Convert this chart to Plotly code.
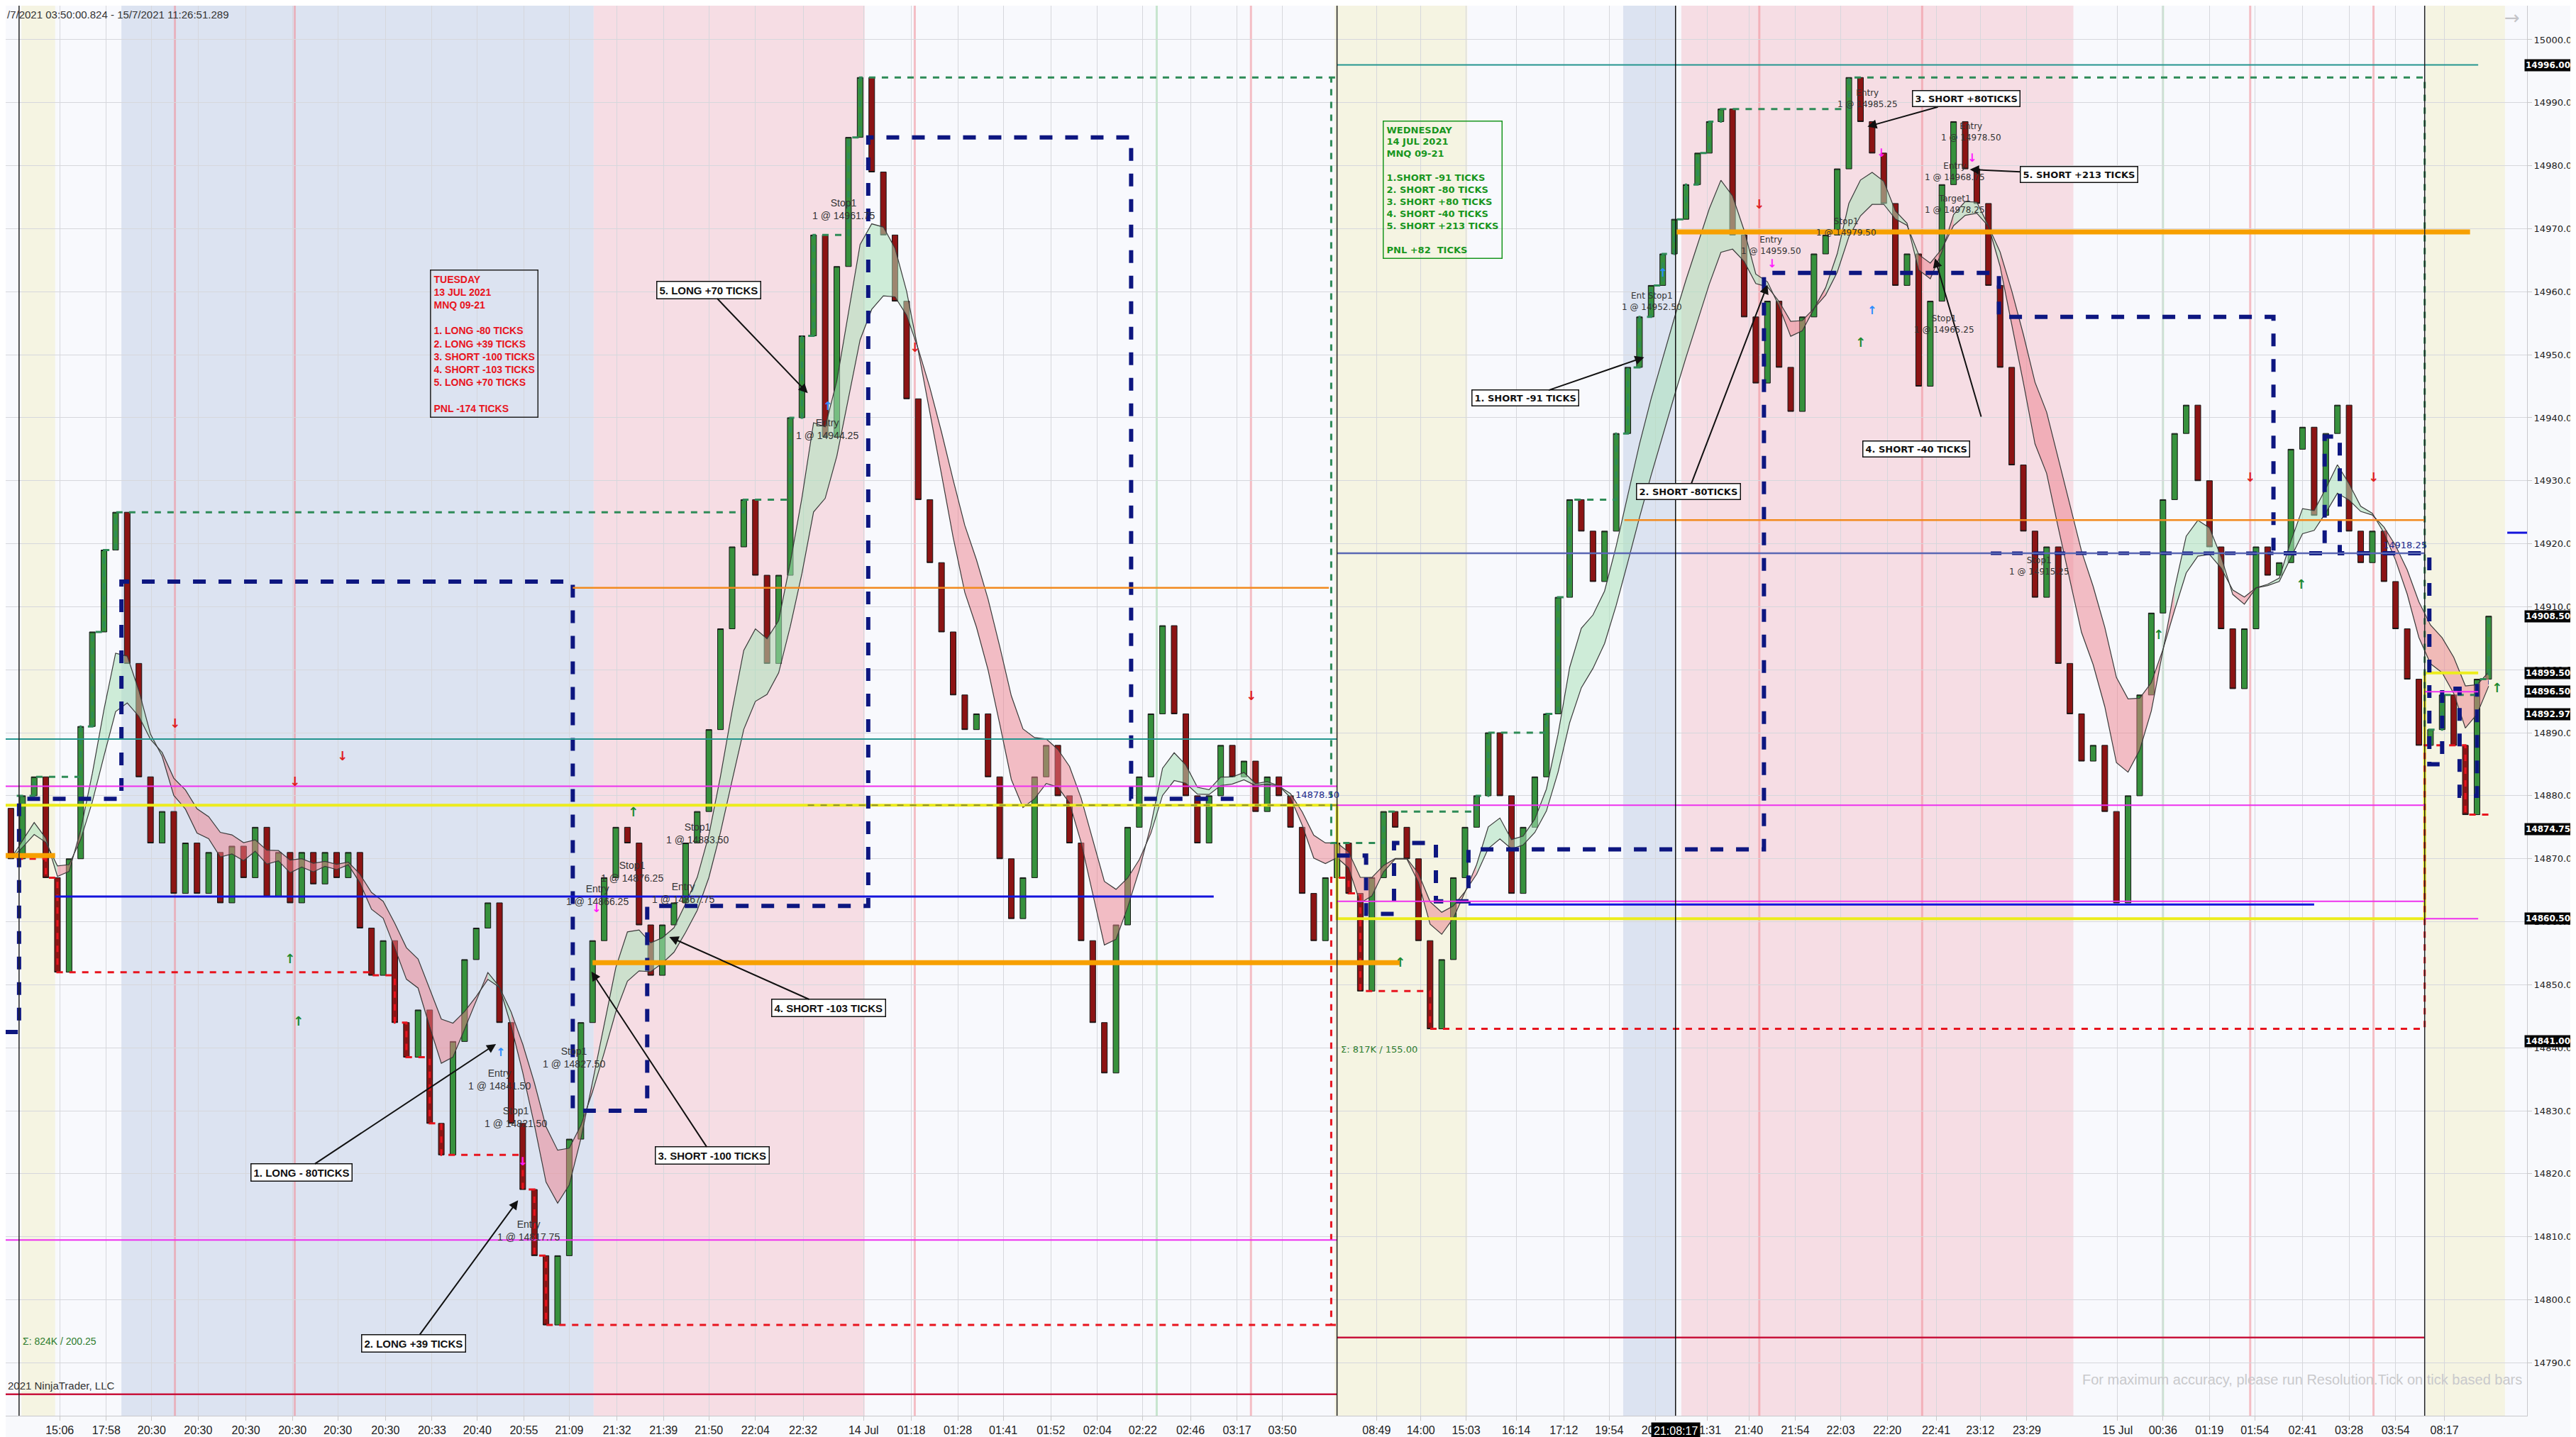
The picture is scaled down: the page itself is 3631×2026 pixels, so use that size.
import plotly.graph_objects as go

# bar closes (renko-like bars, open = previous close)
close = [
    14870, 14880, 14883, 14867, 14852, 14870, 14891, 14906, 14919, 14925,
    14901, 14883, 14872.5, 14877.5, 14864.5, 14872.5, 14864.5, 14871, 14863, 14872,
    14867, 14875, 14864, 14871, 14863, 14871, 14866, 14871, 14867, 14871,
    14859, 14851.5, 14857, 14844, 14838.5, 14846, 14828, 14823, 14841, 14854,
    14859, 14863, 14844, 14828, 14817.5, 14807, 14796, 14807, 14825.5, 14844,
    14857, 14867, 14875, 14872.5, 14859.5, 14851.5, 14859.5, 14863, 14872.5, 14877.5,
    14890.5, 14906.5, 14919.5, 14927, 14915, 14901, 14915, 14940, 14953, 14969,
    14937, 14964, 14984.5, 14994, 14979, 14969, 14958.5, 14943, 14927, 14917,
    14906, 14896, 14890.5, 14893, 14883, 14870, 14860.5, 14867, 14883, 14888,
    14880, 14872.5, 14857, 14844, 14836, 14859.5, 14875, 14883, 14893, 14907,
    14893, 14880, 14872.5, 14880, 14888, 14883, 14885.5, 14877.5, 14883, 14880,
    14875, 14864.5, 14857, 14867, 14872.5, 14864.5, 14849, 14867, 14877.5, 14875,
    14870, 14857, 14843, 14854, 14867, 14875, 14880, 14890, 14880, 14864.5,
    14875, 14883, 14893, 14911.5, 14927, 14922, 14914, 14922, 14937.5, 14948,
    14956, 14961, 14966, 14971.5, 14977, 14982, 14987, 14989, 14969, 14956,
    14945.5, 14958.5, 14948, 14941, 14956, 14966, 14969, 14979.5, 14994, 14987,
    14982, 14974, 14961, 14966, 14945, 14958.5, 14977, 14987, 14979.5, 14974,
    14961, 14948, 14932.5, 14922, 14911.5, 14919.5, 14901, 14893, 14885.5, 14888,
    14877.5, 14863, 14880, 14896, 14909, 14927, 14937.5, 14942, 14930, 14919.5,
    14906.5, 14897, 14906.5, 14919.5, 14915, 14917, 14935, 14938.5, 14924.5, 14937.5,
    14942, 14922, 14917, 14922, 14914, 14906.5, 14898.5, 14888, 14890.5, 14896,
    14888, 14877, 14898.5, 14908.5,
]
first_open = 14878

tick_pos = [4.2, 8.2, 12.1, 16.1, 20.2, 24.2, 28.1, 32.2, 36.2, 40.1, 44.1, 48.0,
            52.1, 56.1, 60.0, 64.0, 68.1, 73.3, 77.4, 81.4, 85.3, 89.4, 93.4, 97.3,
            101.4, 105.4, 109.3, 117.4, 121.2, 125.1, 129.4, 133.5, 137.4, 141.4,
            145.8, 149.4, 153.4, 157.3, 161.3, 165.5, 169.3, 173.3, 181.1, 185.0,
            189.0, 192.9, 197.0, 201.0, 205.0, 209.2]
tick_text = ["15:06", "17:58", "20:30", "20:30", "20:30", "20:30", "20:30", "20:30",
             "20:33", "20:40", "20:55", "21:09", "21:32", "21:39", "21:50", "22:04",
             "22:32", "14 Jul", "01:18", "01:28", "01:41", "01:52", "02:04", "02:22",
             "02:46", "03:17", "03:50", "08:49", "14:00", "15:03", "16:14", "17:12",
             "19:54", "20:48", "21:31", "21:40", "21:54", "22:03", "22:20", "22:41",
             "23:12", "23:29", "15 Jul", "00:36", "01:19", "01:54", "02:41", "03:28",
             "03:54", "08:17"]

# session limits (bar units)
session_start = [1, 114, 208]
session_end = [114, 207.5, 213.4]

# background bands: start, end, kind
bands = [(0.9, 3.8, "pre"), (9.5, 50.1, "asia"), (50.1, 73.4, "europe"),
         (113.8, 125.2, "pre"), (138.6, 143.1, "asia"), (143.6, 177.3, "europe"),
         (207.6, 214.4, "pre")]

# solid level lines: price, start bar, end bar
teal_lv = [(14889, -0.5, 114), (14996, 114, 212.1)]
magenta_lv = [(14881.5, -0.5, 114), (14809.5, -0.5, 114), (14878.5, 114, 207.5),
              (14863.25, 114, 207.5), (14860.5, 207.5, 212.1), (14896.5, 207.5, 212.1)]
blue_lv = [(14864, 3.8, 103.4), (14862.75, 125.3, 198), (14921.75, 214.6, 216.3)]
orange_thin_lv = [(14913, 48.3, 113.3), (14923.75, 138.7, 207.5)]
orange_thick_lv = [(14870.5, -0.5, 3.8), (14853.5, 50, 119.4), (14969.5, 143.2, 211.4)]
crimson_lv = [(14785, -0.5, 114), (14794, 114, 207.5)]
slate_lv = [(14918.5, 114, 207.5)]
# yellow pivot line (steps at session changes)
yellow_x = [-0.5, 114, 114, 207.5, 207.5, 212.1]
yellow_y = [14878.5, 14878.5, 14860.5, 14860.5, 14899.5, 14899.5]
olive_lv = [(14878.5, 68.5, 114)]

# navy stop/target channel (step points)
navy_left_x = [-0.5, 0.7, 0.7, 9.5, 9.5, 48.3, 48.3, 54.7, 54.7, 73.7, 73.7, 96.3,
               96.3, 105.2]
navy_left_y = [14842.5, 14842.5, 14879.5, 14879.5, 14914, 14914, 14830, 14830,
               14862.5, 14862.5, 14984.5, 14984.5, 14879.5, 14879.5]
navy_right_x = [114, 116.5, 116.5, 118.9, 118.9, 122.5, 122.5, 125.3, 125.3, 150.7,
                150.7, 170.9, 170.9, 194.5, 194.5, 198.9, 198.9, 200.2, 200.2, 207.9,
                207.9, 209, 209, 210.5, 210.5, 212, 212, 213]
navy_right_y = [14870.5, 14870.5, 14861.25, 14861.25, 14872.5, 14872.5, 14863.25,
                14863.25, 14871.5, 14871.5, 14963, 14963, 14956, 14956, 14918.5,
                14918.5, 14937, 14937, 14918.5, 14918.5, 14885, 14885, 14897, 14897,
                14880, 14880, 14898, 14898]
navy2_x = [170.2, 194.5]
navy2_y = [14918.5, 14918.5]

pink_vlines = [14.1, 24.4, 77.7, 106.6, 150.3, 164.3, 192.5, 203.1]
green_vlines = [98.5, 185.0]
session_lines = [0.7, 114, 207.5]
cursor_bar = 143.1

tags = ["14996.00", "14908.50", "14899.50", "14896.50", "14892.97", "14874.75",
        "14860.50", "14841.00"]

tuesday = ["TUESDAY", "13 JUL 2021", "MNQ 09-21", "", "1. LONG -80 TICKS",
           "2. LONG +39 TICKS", "3. SHORT -100 TICKS", "4. SHORT -103 TICKS",
           "5. LONG +70 TICKS", "", "PNL -174 TICKS"]
wednesday = ["WEDNESDAY", "14 JUL 2021", "MNQ 09-21", "", "1.SHORT -91 TICKS",
             "2. SHORT -80 TICKS", "3. SHORT +80 TICKS", "4. SHORT -40 TICKS",
             "5. SHORT +213 TICKS", "", "PNL +82  TICKS"]

# trade labels: text, label (bar, price), arrow head (bar, price), font group
trades = [
    ("5. LONG +70 TICKS", 60.0, 14960.3, 68.5, 14943.9, "n"),
    ("1. LONG - 80TICKS", 25.0, 14820.2, 41.7, 14840.6, "n"),
    ("2. LONG +39 TICKS", 34.6, 14793.1, 43.6, 14815.8, "n"),
    ("3. SHORT -100 TICKS", 60.3, 14822.9, 49.9, 14852.1, "n"),
    ("4. SHORT -103 TICKS", 70.3, 14846.3, 56.6, 14857.6, "n"),
    ("1. SHORT -91 TICKS", 130.2, 14943.1, 140.4, 14949.6, "w"),
    ("2. SHORT -80TICKS", 144.2, 14928.3, 151.0, 14961.1, "w"),
    ("3. SHORT +80TICKS", 168.1, 14990.6, 159.6, 14986.2, "w"),
    ("5. SHORT +213 TICKS", 177.8, 14978.6, 168.4, 14979.4, "w"),
]

fills = [
    ("Stop1", "14961.75", 71.6, 14973.1), ("Entry", "14944.25", 70.2, 14938.2),
    ("Stop1", "14883.50", 59.0, 14874.0), ("Entry", "14841.50", 42.0, 14835.0),
    ("Stop1", "14821.50", 43.4, 14829.0), ("Entry", "14817.75", 44.5, 14811.0),
    ("Stop1", "14827.50", 48.4, 14838.5), ("Entry", "14866.25", 50.4, 14864.2),
    ("Stop1", "14876.25", 53.4, 14868.0), ("Entry", "14867.75", 57.8, 14864.6),
    ("Entry", "14959.50", 151.3, 14967.4), ("Ent Stop1", "14952.50", 141.1, 14958.5),
    ("Stop1", "14979.50", 157.8, 14970.3), ("Entry", "14985.25", 159.6, 14990.6),
    ("Entry", "14978.50", 168.5, 14985.4), ("Entry", "14968.75", 167.1, 14979.1),
    ("Target1", "14978.25", 167.1, 14973.9), ("Stop1", "14965.25", 166.2, 14954.9),
    ("Stop1", "14915.25", 174.4, 14916.5),
]

down_arrows = [(14.1, 14891.5), (24.4, 14882.3), (28.5, 14886.3), (77.7, 14951.2),
               (106.6, 14895.9), (150.3, 14973.9), (192.5, 14930.6), (203.1, 14930.6)]
up_arrows = [(24.0, 14854.2), (24.7, 14844.2), (119.4, 14853.6), (184.6, 14905.6),
             (196.9, 14913.6), (213.7, 14897.2), (159.0, 14952.0), (53.5, 14877.5)]
entry_down = [(50.3, 14862.2), (151.4, 14964.5), (160.8, 14982.0), (168.6, 14981.2),
              (44.0, 14822.0)]
entry_up = [(70.2, 14941.8), (42.1, 14839.3), (142.0, 14963.0), (160.0, 14957.0)]

NARROW = "Liberation Sans Narrow, Arial Narrow, Liberation Sans, Arial"
WIDE = "DejaVu Sans, Verdana, sans-serif"


def ema(vals, span):
    a = 2.0 / (span + 1)
    out = [vals[0]]
    for v in vals[1:]:
        out.append(out[-1] + a * (v - out[-1]))
    return out


bars = list(range(len(close)))
opens = [first_open] + close[:-1]
highs = [max(o, c) for o, c in zip(opens, close)]
lows = [min(o, c) for o, c in zip(opens, close)]

fast = ema(close, 6)
slow = ema(close, 10)

fig = go.Figure()

# ribbon fill, coloured by which average is on top
runs = []
cur = [0]
for i in range(1, len(bars)):
    if (fast[i] >= slow[i]) == (fast[cur[0]] >= slow[cur[0]]):
        cur.append(i)
    else:
        cur.append(i)
        runs.append(cur)
        cur = [i]
runs.append(cur)
for run in runs:
    up = fast[run[0]] >= slow[run[0]] if len(run) < 2 else fast[run[1]] >= slow[run[1]]
    xs = run + run[::-1]
    ys = [fast[i] for i in run] + [slow[i] for i in run[::-1]]
    fig.add_trace(go.Scatter(
        x=xs, y=ys, fill="toself", mode="lines", line=dict(width=0),
        fillcolor="rgba(172,226,186,0.55)" if up else "rgba(236,128,140,0.50)",
        hoverinfo="skip", showlegend=False))

fig.add_trace(go.Candlestick(
    x=bars, open=opens, high=highs, low=lows, close=close,
    increasing=dict(fillcolor="#37913d", line=dict(color="#151515", width=1)),
    decreasing=dict(fillcolor="#8c1414", line=dict(color="#151515", width=1)),
    whiskerwidth=0, showlegend=False))

for line in (fast, slow):
    fig.add_trace(go.Scatter(x=bars, y=line, mode="lines",
                             line=dict(color="#3a3a3a", width=1.2),
                             hoverinfo="skip", showlegend=False))

fig.add_trace(go.Scatter(x=yellow_x, y=yellow_y, mode="lines",
                         line=dict(color="#ecec1c", width=4),
                         hoverinfo="skip", showlegend=False))
for p, x0, x1 in olive_lv:
    fig.add_trace(go.Scatter(x=[x0, x1], y=[p, p], mode="lines",
                             line=dict(color="#8c8c2c", width=2, dash="dash"),
                             hoverinfo="skip", showlegend=False))

# session running high / low
hx, hy, lx, ly = [], [], [], []
for s0, s1 in zip(session_start, session_end):
    mx, mn = None, None
    for i in range(s0, len(bars)):
        if i >= s1:
            break
        mx = highs[i] if mx is None else max(mx, highs[i])
        mn = lows[i] if mn is None else min(mn, lows[i])
        hx.append(i - 0.5 if i == s0 else i); hy.append(mx)
        lx.append(i - 0.5 if i == s0 else i); ly.append(mn)
    hx.append(s1); hy.append(mx)
    lx.append(s1); ly.append(mn)
fig.add_trace(go.Scatter(x=hx, y=hy, mode="lines", line_shape="hv",
                         line=dict(color="#2e8b57", width=3, dash="dash"),
                         hoverinfo="skip", showlegend=False))
fig.add_trace(go.Scatter(x=lx, y=ly, mode="lines", line_shape="hv",
                         line=dict(color="#e8141e", width=3, dash="dash"),
                         hoverinfo="skip", showlegend=False))

for nx, ny in ((navy_left_x, navy_left_y), (navy_right_x, navy_right_y)):
    fig.add_trace(go.Scatter(x=nx, y=ny, mode="lines",
                             line=dict(color="#0d1680", width=6, dash="dash"),
                             hoverinfo="skip", showlegend=False))
fig.add_trace(go.Scatter(x=navy2_x, y=navy2_y, mode="lines",
                         line=dict(color="#0d1680", width=5, dash="dash"),
                         hoverinfo="skip", showlegend=False))

# shapes
band_color = {"pre": "#f5f4e2", "asia": "#dce3f1", "europe": "#f6dde4"}
shapes = []
for x0, x1, kind in bands:
    shapes.append(dict(type="rect", xref="x", yref="paper", x0=x0, x1=x1, y0=0, y1=1,
                       fillcolor=band_color[kind], line=dict(width=0), layer="below"))
for b in pink_vlines:
    shapes.append(dict(type="line", xref="x", yref="paper", x0=b, x1=b, y0=0, y1=1,
                       line=dict(color="rgba(240,140,150,0.55)", width=3), layer="below"))
for b in green_vlines:
    shapes.append(dict(type="line", xref="x", yref="paper", x0=b, x1=b, y0=0, y1=1,
                       line=dict(color="rgba(150,210,160,0.5)", width=3), layer="below"))


def levels(lst, color, width):
    for p, x0, x1 in lst:
        shapes.append(dict(type="line", xref="x", yref="y", x0=x0, x1=x1, y0=p, y1=p,
                           line=dict(color=color, width=width), layer="above"))


levels(teal_lv, "#24958f", 2)
levels(slate_lv, "#5a67b4", 2.5)
levels(magenta_lv, "#ee30ee", 2)
levels(blue_lv, "#1414dc", 3)
levels(orange_thin_lv, "#f28a1e", 2.5)
levels(orange_thick_lv, "#f7a000", 7)
levels(crimson_lv, "#c8143c", 2.5)

for b in session_lines:
    shapes.append(dict(type="line", xref="x", yref="paper", x0=b, x1=b, y0=0, y1=1,
                       line=dict(color="#222", width=1.5), layer="above"))
shapes.append(dict(type="line", xref="x", yref="paper", x0=cursor_bar, x1=cursor_bar,
                   y0=0, y1=1, line=dict(color="#111", width=1.5), layer="above"))
# window frame strips
shapes.append(dict(type="rect", xref="paper", yref="paper", x0=1.0191, x1=1.03,
                   y0=-0.02, y1=1, fillcolor="#2b2b2b", line=dict(width=0)))
shapes.append(dict(type="rect", xref="paper", yref="paper", x0=0, x1=1.03,
                   y0=-0.0195, y1=-0.0162, fillcolor="#2b2b2b", line=dict(width=0)))

ann = []
ann.append(dict(xref="x", yref="y", x=36, y=14963.5, xanchor="left", yanchor="top",
                text="<br>".join("<b>%s</b>" % t for t in tuesday), align="left",
                showarrow=False, font=dict(family=NARROW, size=14, color="#e8141e"),
                bordercolor="#222", borderwidth=1.5, borderpad=4))
ann.append(dict(xref="x", yref="y", x=117.9, y=14987.2, xanchor="left", yanchor="top",
                text="<br>".join("<b>%s</b>" % t for t in wednesday), align="left",
                showarrow=False, font=dict(family=WIDE, size=13, color="#18961e"),
                bordercolor="#18961e", borderwidth=1.5, borderpad=4))

for text, tx, ty, hx_, hy_, grp in trades:
    ann.append(dict(xref="x", yref="y", axref="x", ayref="y", x=hx_, y=hy_, ax=tx, ay=ty,
                    text="<b>%s</b>" % text, showarrow=True, arrowhead=2, arrowsize=1.3,
                    arrowwidth=2, arrowcolor="#111", bgcolor="white",
                    bordercolor="#111", borderwidth=1.5, borderpad=3,
                    font=dict(family=NARROW if grp == "n" else WIDE,
                              size=15 if grp == "n" else 13, color="#111")))
ann.append(dict(xref="x", yref="y", x=163.8, y=14935, text="<b>4. SHORT -40 TICKS</b>",
                showarrow=False, bgcolor="white", bordercolor="#111", borderwidth=1.5,
                borderpad=3, font=dict(family=WIDE, size=13, color="#111")))
ann.append(dict(xref="x", yref="y", axref="x", ayref="y", x=165.4, y=14965.3,
                ax=169.4, ay=14940, text="", showarrow=True, arrowhead=2,
                arrowsize=1.3, arrowwidth=2, arrowcolor="#111"))

for kind, price, bx, py in fills:
    ann.append(dict(xref="x", yref="y", x=bx, y=py, showarrow=False,
                    text="%s<br>1 @ %s" % (kind, price),
                    font=dict(family=NARROW if bx < 114 else WIDE,
                              size=14 if bx < 114 else 12, color="#333")))

for bx, py in down_arrows:
    ann.append(dict(xref="x", yref="y", x=bx, y=py, text="<b>↓</b>", showarrow=False,
                    font=dict(family=WIDE, size=18, color="#e01e1e")))
for bx, py in up_arrows:
    ann.append(dict(xref="x", yref="y", x=bx, y=py, text="<b>↑</b>", showarrow=False,
                    font=dict(family=WIDE, size=18, color="#1f8a2e")))
for bx, py in entry_down:
    ann.append(dict(xref="x", yref="y", x=bx, y=py, text="<b>↓</b>", showarrow=False,
                    font=dict(family=WIDE, size=16, color="#ff1aff")))
for bx, py in entry_up:
    ann.append(dict(xref="x", yref="y", x=bx, y=py, text="<b>↑</b>", showarrow=False,
                    font=dict(family=WIDE, size=16, color="#2b8cff")))

ann.append(dict(xref="x", yref="y", x=205.8, y=14919.8, text="14918.25", showarrow=False,
                font=dict(family=WIDE, size=13, color="#1c2a8c")))
ann.append(dict(xref="x", yref="y", x=112.3, y=14880.2, text="14878.50", showarrow=False,
                font=dict(family=WIDE, size=13, color="#1c2a8c")))
ann.append(dict(xref="x", yref="y", x=114.2, y=14839.8, xanchor="left",
                text="Σ: 817K / 155.00", showarrow=False,
                font=dict(family=WIDE, size=13, color="#2f7d2f")))
ann.append(dict(xref="x", yref="y", x=0.9, y=14793.4, xanchor="left",
                text="Σ: 824K / 200.25", showarrow=False,
                font=dict(family=NARROW, size=14, color="#2f7d2f")))
ann.append(dict(xref="x", yref="y", x=-0.4, y=14786.4, xanchor="left",
                text="2021 NinjaTrader, LLC", showarrow=False,
                font=dict(family=NARROW, size=15, color="#333")))
ann.append(dict(xref="x", yref="y", x=216.0, y=14787.3, xanchor="right",
                text="For maximum accuracy, please run Resolution.Tick on tick based bars",
                showarrow=False, font=dict(family=NARROW, size=20, color="#c9c9cc")))
ann.append(dict(xref="paper", yref="paper", x=0, y=1, xanchor="left", yanchor="top",
                yshift=-2, text="/7/2021 03:50:00.824 - 15/7/2021 11:26:51.289",
                showarrow=False, font=dict(family=NARROW, size=15, color="#333")))
ann.append(dict(xref="paper", yref="paper", x=0.994, y=1, xanchor="center",
                yanchor="top", text="→", showarrow=False,
                font=dict(family=WIDE, size=26, color="#c4c4c8")))
ann.append(dict(xref="x", yref="paper", x=cursor_bar, y=0, yanchor="top", yshift=-9,
                text="21:08:17", showarrow=False, bgcolor="#000",
                font=dict(family=NARROW, size=16, color="white"), borderpad=3))
for t in tags:
    ann.append(dict(xref="paper", yref="y", x=1, y=float(t), xanchor="left", xshift=-4,
                    text="<b>%s</b>" % t, showarrow=False, bgcolor="#050505",
                    font=dict(family=WIDE, size=12, color="white"), borderpad=1))

fig.update_layout(
    width=3631, height=2026,
    margin=dict(l=0, r=77, t=0, b=38),
    paper_bgcolor="#f8f9fc", plot_bgcolor="#f8f9fd",
    shapes=shapes, annotations=ann, showlegend=False,
    xaxis=dict(range=[-0.45, 216.3], tickmode="array", tickvals=tick_pos,
               ticktext=tick_text, showgrid=True, gridcolor="#d6d7dc", gridwidth=1,
               zeroline=False, rangeslider=dict(visible=False), ticks="outside",
               ticklen=6, tickcolor="#c8c8c8",
               tickfont=dict(family=NARROW, size=16, color="#222"),
               showline=True, linecolor="#c8c8cc"),
    yaxis=dict(range=[14781.6, 15005.4], side="right", dtick=10, tickformat=".2f",
               showgrid=True, gridcolor="#d6d7dc", zeroline=False, ticks="outside",
               ticklen=6, tickcolor="#c8c8c8", showline=True, linecolor="#c8c8cc",
               tickfont=dict(family=WIDE, size=13, color="#222")),
)

fig.write_html("out.html")
